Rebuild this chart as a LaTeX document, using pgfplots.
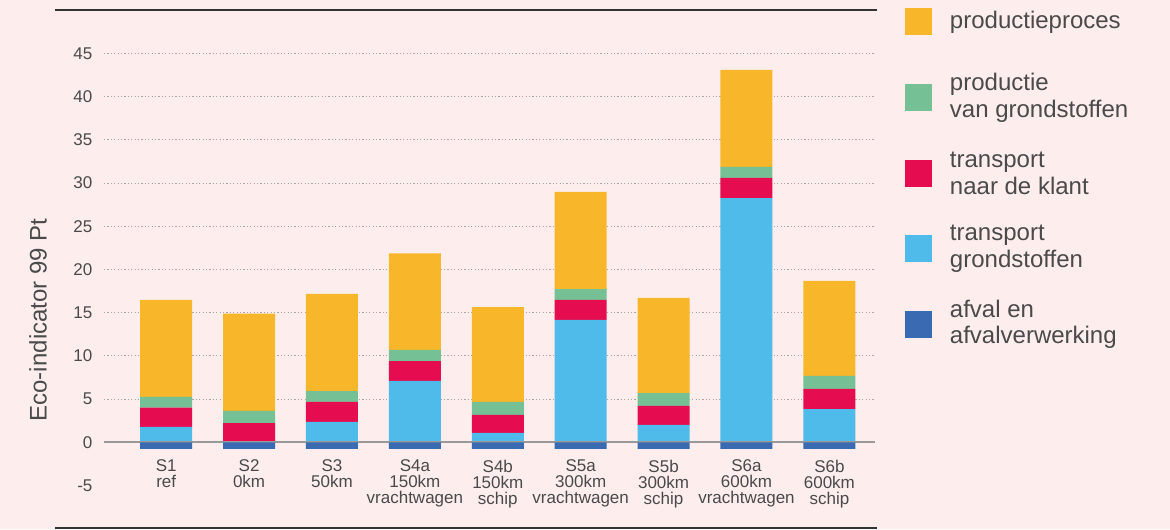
\documentclass[border=0pt]{standalone}
\usepackage{pgfplots}
\usepackage{pgfplotstable}
\pgfplotsset{compat=1.18}
\usepackage{fontspec}
\setmainfont{Liberation Sans}

\definecolor{bg}{HTML}{FDEDED}
\definecolor{proces}{HTML}{F8B62B}
\definecolor{grond}{HTML}{76C095}
\definecolor{klant}{HTML}{E60C50}
\definecolor{transgr}{HTML}{4EBBEA}
\definecolor{afval}{HTML}{3A6BB2}
\definecolor{txt}{HTML}{4A4A4A}

% x: scenario index; lb = transport grondstoffen, red = transport naar de klant,
% green = productie van grondstoffen, orange = productieproces, afval = afval en afvalverwerking
\pgfplotstableread{
x lb    red  green orange afval
0 1.77  2.23 1.24  11.22  -0.75
1 0.00  2.23 1.39  11.26  -0.75
2 2.35  2.31 1.27  11.23  -0.75
3 7.09  2.31 1.28  11.18  -0.75
4 1.08  2.08 1.50  10.99  -0.75
5 14.15 2.31 1.27  11.23  -0.75
6 2.00  2.20 1.50  11.00  -0.75
7 28.26 2.32 1.27  11.22  -0.75
8 3.85  2.32 1.50  10.99  -0.75
}\data

\pgfplotsset{
  base/.style={
    scale only axis, width=385.5pt, height=216.1pt,
    at={(0pt,0pt)}, anchor=south west,
    xmin=-0.75, xmax=8.55, ymin=-5, ymax=45,
    bar width=26pt,
  },
}

\begin{document}
\begin{tikzpicture}
  \path[use as bounding box, fill=bg] (-52pt,-21.75pt) rectangle (533pt,242.75pt);
  \draw[line width=1pt, black!80] (-24.5pt,237.75pt) -- (386.5pt,237.75pt);
  \draw[line width=1pt, black!80] (-24.5pt,-21.1pt) -- (386.5pt,-21.1pt);

  \begin{axis}[base, ybar stacked,
      axis line style={draw=none}, tick style={draw=none},
      /pgf/number format/assume math mode=true,
      ytick={5,10,...,45}, extra y ticks={-5,0}, extra y tick style={grid=none},
      ymajorgrids, major grid style={black!35, dash pattern=on 0.6pt off 1.1pt},
      yticklabel style={font=\fontsize{8.5}{10}\selectfont, text=txt, inner sep=0pt, xshift=-5.6pt},
      xtick={0,...,8},
      xticklabels={{S1\\ref},{S2\\0km},{S3\\50km},{S4a\\150km\\vrachtwagen},{S4b\\150km\\schip},
        {S5a\\300km\\vrachtwagen},{S5b\\300km\\schip},{S6a\\600km\\vrachtwagen},{S6b\\600km\\schip}},
      xticklabel style={align=center, font=\fontsize{8.5}{8}\selectfont, text=txt,
        anchor=north, inner sep=0pt, yshift=13.1pt},
      ylabel={Eco-indicator 99 Pt},
      ylabel style={at={(axis description cs:-0.0856,0.383)}, anchor=center,
        font=\fontsize{12}{14}\selectfont, text=txt},
      legend image code/.code={\fill[#1, draw=none] (0pt,-6.75pt) rectangle (13.5pt,6.75pt);},
      legend cell align=left,
      reverse legend,
      legend style={at={(axis description cs:1.0389,1.16)}, anchor=north west,
        draw=none, fill=none, inner sep=0pt, outer sep=0pt, row sep=0pt, column sep=9pt,
        font=\fontsize{12}{13.3}\selectfont, text=txt,
        nodes={inner sep=0pt, minimum height=37.8pt, text depth=, align=left}},
    ]
    \draw[black!40, line width=0.8pt] (axis cs:-0.75,0) -- (axis cs:8.55,0);
    \addlegendimage{fill=afval, draw=none}
    \addlegendentry{afval en\\afvalverwerking}
    \addplot[fill=transgr, draw=none] table[x=x, y=lb] {\data};
    \addlegendentry{transport\\grondstoffen}
    \addplot[fill=klant, draw=none] table[x=x, y=red] {\data};
    \addlegendentry{transport\\naar de klant}
    \addplot[fill=grond, draw=none] table[x=x, y=green] {\data};
    \addlegendentry{productie\\van grondstoffen}
    \addplot[fill=proces, draw=none] table[x=x, y=orange] {\data};
    \addlegendentry{productieproces}
  \end{axis}

  \begin{axis}[base, ybar, hide axis]
    \addplot[fill=afval, draw=none] table[x=x, y=afval] {\data};
  \end{axis}
\end{tikzpicture}
\end{document}
